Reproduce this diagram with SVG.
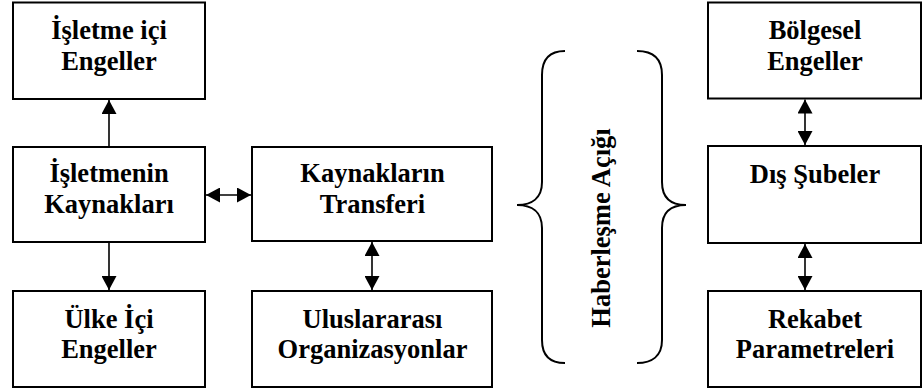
<svg xmlns="http://www.w3.org/2000/svg" width="923" height="392" viewBox="0 0 923 392">
  <defs>
    <marker id="ah" viewBox="0 0 14 15" refX="14" refY="7.5" markerWidth="14" markerHeight="15" markerUnits="userSpaceOnUse" orient="auto-start-reverse">
      <path d="M0,0 L14,7.5 L0,15 z" fill="#000"/>
    </marker>
    <style>
      .box { fill: #fff; stroke: #000; stroke-width: 2; }
      .lbl { font-family: "Liberation Serif", "Times New Roman", serif; font-weight: bold; font-size: 26.5px; fill: #000; text-anchor: middle; }
      .conn line { stroke: #000; stroke-width: 1.6; }
      .brace { fill: none; stroke: #000; stroke-width: 2; }
    </style>
  </defs>
  <rect width="923" height="392" fill="#fff"/>

  <g id="isletme-ici-engeller">
    <rect class="box" x="13" y="2.5" width="192" height="96.5"/>
    <text class="lbl" x="109" y="39">İşletme içi</text>
    <text class="lbl" x="109" y="70">Engeller</text>
  </g>

  <g id="isletmenin-kaynaklari">
    <rect class="box" x="13" y="147" width="192" height="95"/>
    <text class="lbl" x="109" y="182">İşletmenin</text>
    <text class="lbl" x="109" y="213">Kaynakları</text>
  </g>

  <g id="ulke-ici-engeller">
    <rect class="box" x="13" y="291" width="192" height="96"/>
    <text class="lbl" x="109" y="328">Ülke İçi</text>
    <text class="lbl" x="109" y="358">Engeller</text>
  </g>

  <g id="kaynaklarin-transferi">
    <rect class="box" x="252" y="147" width="240" height="94"/>
    <text class="lbl" x="372.5" y="182">Kaynakların</text>
    <text class="lbl" x="372.5" y="213">Transferi</text>
  </g>

  <g id="uluslararasi-organizasyonlar">
    <rect class="box" x="252" y="291" width="240" height="96"/>
    <text class="lbl" x="372.5" y="328">Uluslararası</text>
    <text class="lbl" x="372.5" y="358">Organizasyonlar</text>
  </g>

  <g id="haberlesme-acigi">
    <path class="brace" d="M565,51 C550,51 542,58 542,75 L542,182 C542,198 532,205 517,205 C532,205 542,212 542,228 L542,340 C542,356 550,363 565,363"/>
    <path class="brace" d="M637,51 C652,51 662,58 662,75 L662,182 C662,198 671,205 686,205 C671,205 662,212 662,228 L662,340 C662,356 652,363 637,363"/>
    <text class="lbl" transform="translate(610,228) rotate(-90)">Haberleşme Açığı</text>
  </g>

  <g id="bolgesel-engeller">
    <rect class="box" x="708" y="2.5" width="213" height="96"/>
    <text class="lbl" x="815" y="39">Bölgesel</text>
    <text class="lbl" x="815" y="70">Engeller</text>
  </g>

  <g id="dis-subeler">
    <rect class="box" x="708" y="146" width="213" height="97"/>
    <text class="lbl" x="815" y="183">Dış Şubeler</text>
  </g>

  <g id="rekabet-parametreleri">
    <rect class="box" x="708" y="291" width="213" height="96"/>
    <text class="lbl" x="815" y="328">Rekabet</text>
    <text class="lbl" x="815" y="358">Parametreleri</text>
  </g>

  <g id="connectors" class="conn">
    <line x1="109" y1="147" x2="109" y2="100" marker-end="url(#ah)"/>
    <line x1="109" y1="242" x2="109" y2="290" marker-end="url(#ah)"/>
    <line x1="206" y1="195" x2="251" y2="195" marker-start="url(#ah)" marker-end="url(#ah)"/>
    <line x1="372" y1="242" x2="372" y2="290" marker-start="url(#ah)" marker-end="url(#ah)"/>
    <line x1="805" y1="99.5" x2="805" y2="145" marker-start="url(#ah)" marker-end="url(#ah)"/>
    <line x1="805" y1="244" x2="805" y2="290" marker-start="url(#ah)" marker-end="url(#ah)"/>
  </g>
</svg>
